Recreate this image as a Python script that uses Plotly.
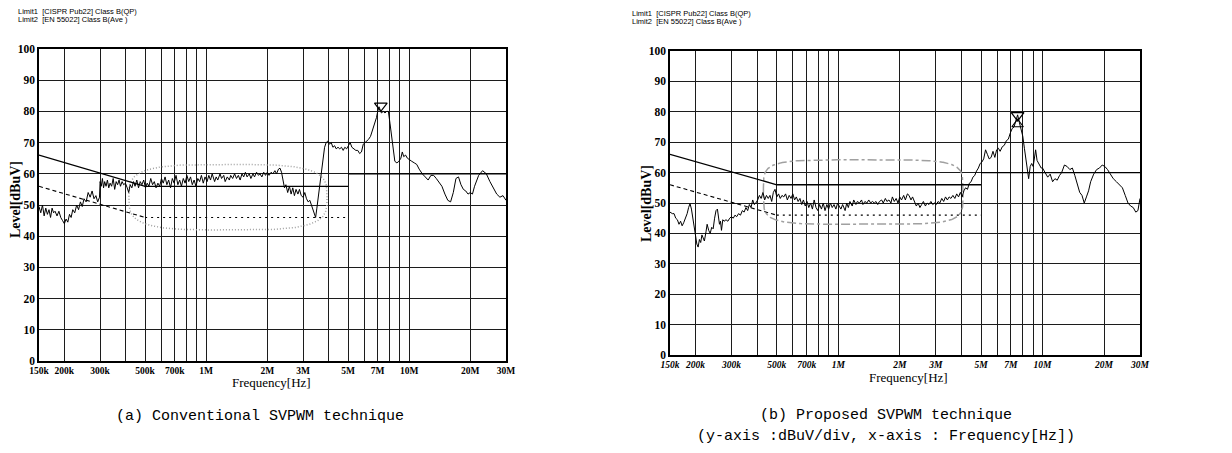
import numpy as np
import plotly.graph_objects as go

# ---------------- data (frequency in MHz, level in dBuV) ----------------
freq_a = [0.150, 0.153, 0.156, 0.159, 0.162, 0.165, 0.168, 0.171, 0.174, 0.177, 0.180, 0.184, 0.188, 0.192, 0.196,
          0.200, 0.204, 0.208, 0.212, 0.216, 0.220, 0.225, 0.230, 0.235, 0.240, 0.245, 0.250, 0.256, 0.262, 0.268,
          0.274, 0.280, 0.286, 0.292, 0.298, 0.300, 0.304, 0.308, 0.312, 0.316, 0.321, 0.326, 0.331, 0.336, 0.342,
          0.348, 0.354, 0.360, 0.366, 0.372, 0.378, 0.385, 0.392, 0.400, 0.408, 0.415, 0.422, 0.430, 0.438, 0.446,
          0.455, 0.464, 0.473, 0.482, 0.492, 0.502, 0.512, 0.522, 0.533, 0.544, 0.555, 0.566, 0.578, 0.590, 0.602,
          0.614, 0.627, 0.640, 0.653, 0.667, 0.681, 0.695, 0.710, 0.725, 0.740, 0.755, 0.771, 0.787, 0.803, 0.820,
          0.837, 0.854, 0.872, 0.890, 0.909, 0.928, 0.947, 0.967, 0.987, 1.01, 1.03, 1.05, 1.07, 1.10, 1.12,
          1.14, 1.17, 1.19, 1.22, 1.24, 1.27, 1.30, 1.32, 1.35, 1.38, 1.41, 1.44, 1.47, 1.50, 1.53,
          1.56, 1.59, 1.63, 1.66, 1.70, 1.73, 1.77, 1.81, 1.84, 1.88, 1.92, 1.96, 2.00, 2.04, 2.09,
          2.13, 2.18, 2.22, 2.27, 2.31, 2.35, 2.39, 2.43, 2.47, 2.52, 2.57, 2.62, 2.67, 2.72, 2.77,
          2.83, 2.88, 2.94, 3.00, 3.06, 3.12, 3.18, 3.24, 3.30, 3.36, 3.41, 3.46, 3.51, 3.57, 3.64,
          3.70, 3.76, 3.83, 3.90, 3.97, 4.05, 4.13, 4.21, 4.29, 4.37, 4.46, 4.55, 4.64, 4.73, 4.82,
          4.92, 5.02, 5.12, 5.22, 5.34, 5.46, 5.58, 5.70, 5.82, 5.94, 6.06, 6.18, 6.30, 6.45, 6.60,
          6.75, 6.90, 7.00, 7.10, 7.20, 7.30, 7.45, 7.60, 7.75, 7.90, 8.05, 8.20, 8.35, 8.50, 8.70,
          8.90, 9.10, 9.25, 9.40, 9.60, 9.80, 10.0, 10.3, 10.6, 10.9, 11.2, 11.6, 12.0, 12.4, 12.8,
          13.2, 13.6, 14.0, 14.5, 15.0, 15.5, 16.0, 16.5, 17.0, 17.5, 18.0, 18.5, 19.0, 19.5, 20.0,
          20.5, 21.0, 22.0, 23.0, 24.0, 25.0, 26.0, 27.0, 28.0, 29.0, 30.0]
level_a = [49.5, 47.5, 50.0, 46.5, 49.0, 47.0, 48.5, 46.0, 49.0, 47.5, 48.0, 46.5, 48.0, 46.0, 45.0,
           44.0, 45.5, 44.5, 47.0, 46.0, 48.5, 47.5, 50.0, 48.5, 51.0, 49.5, 52.0, 51.0, 54.0, 52.5,
           54.5, 52.0, 53.0, 51.0, 52.5, 57.5, 56.0, 58.5, 55.5, 57.5, 56.0, 58.0, 55.5, 57.0, 56.0,
           58.5, 55.0, 57.5, 56.5, 58.0, 56.0, 57.5, 56.5, 57.0, 55.5, 54.0, 56.5, 55.5, 57.5, 56.0,
           58.0, 55.5, 57.5, 56.5, 58.0, 55.5, 57.0, 56.0, 58.5, 56.5, 57.5, 55.5, 57.0, 56.0, 58.5,
           57.0, 59.0, 56.5, 58.0, 55.5, 58.5, 57.0, 59.5, 56.5, 58.0, 56.0, 58.5, 57.0, 59.5, 57.5,
           59.0, 56.5, 58.0, 56.0, 58.5, 57.5, 59.5, 57.0, 59.0, 57.5, 59.5, 58.0, 60.0, 57.5, 59.0,
           58.0, 60.0, 58.5, 59.5, 57.5, 59.0, 58.0, 59.5, 58.5, 60.0, 58.5, 59.5, 58.0, 60.0, 59.0,
           60.5, 59.0, 60.0, 58.5, 60.0, 59.0, 60.5, 59.5, 60.0, 59.0, 60.5, 59.5, 60.5, 59.5, 60.5,
           60.0, 61.0, 60.0, 61.5, 61.8, 60.5, 58.0, 55.5, 56.5, 54.0, 56.0, 53.5, 55.5, 53.0, 55.0,
           53.5, 55.0, 53.0, 52.5, 54.0, 52.0, 51.0, 51.5, 50.0, 48.5, 47.0, 46.0, 49.0, 53.0, 58.0,
           62.0, 66.0, 68.5, 70.0, 70.5, 69.5, 70.0, 68.5, 69.0, 68.0, 68.5, 68.0, 68.5, 67.5, 68.5,
           68.0, 69.0, 70.0, 68.5, 68.0, 67.5, 67.5, 66.5, 67.0, 69.5, 70.0, 70.5, 71.0, 72.0, 74.0,
           76.0, 78.0, 80.0, 81.5, 80.5, 79.5, 80.0, 79.5, 80.0, 80.0, 76.0, 72.0, 67.0, 64.0, 63.5,
           64.0, 65.0, 67.0, 65.5, 66.0, 65.0, 64.5, 64.0, 63.5, 63.0, 61.5, 60.0, 59.0, 58.0, 59.5,
           59.5, 58.5, 57.5, 56.0, 53.5, 51.5, 51.0, 54.0, 58.5, 59.0, 56.5, 55.0, 54.5, 53.5, 54.0,
           53.5, 56.0, 59.5, 61.0, 60.0, 57.5, 55.5, 53.5, 52.5, 53.0, 51.5]

freq_b = [0.150, 0.154, 0.157, 0.160, 0.163, 0.166, 0.169, 0.172, 0.175, 0.179, 0.182, 0.185, 0.188, 0.191, 0.194,
          0.197, 0.200, 0.203, 0.206, 0.209, 0.212, 0.215, 0.218, 0.221, 0.225, 0.228, 0.232, 0.236, 0.240, 0.244,
          0.248, 0.252, 0.256, 0.259, 0.262, 0.265, 0.268, 0.272, 0.276, 0.282, 0.288, 0.294, 0.300, 0.306, 0.312,
          0.318, 0.325, 0.332, 0.339, 0.346, 0.353, 0.360, 0.367, 0.374, 0.381, 0.388, 0.395, 0.403, 0.411, 0.419,
          0.428, 0.436, 0.445, 0.454, 0.463, 0.472, 0.481, 0.490, 0.500, 0.510, 0.520, 0.530, 0.541, 0.552, 0.563,
          0.575, 0.587, 0.599, 0.611, 0.623, 0.636, 0.649, 0.662, 0.675, 0.689, 0.703, 0.717, 0.732, 0.747, 0.762,
          0.778, 0.794, 0.810, 0.827, 0.844, 0.861, 0.879, 0.897, 0.915, 0.934, 0.953, 0.973, 0.993, 1.01, 1.03,
          1.05, 1.08, 1.10, 1.12, 1.14, 1.17, 1.19, 1.22, 1.24, 1.27, 1.30, 1.32, 1.35, 1.38, 1.41,
          1.44, 1.47, 1.50, 1.53, 1.56, 1.59, 1.63, 1.66, 1.70, 1.73, 1.77, 1.81, 1.84, 1.88, 1.92,
          1.96, 2.00, 2.04, 2.09, 2.13, 2.18, 2.22, 2.27, 2.31, 2.36, 2.41, 2.46, 2.51, 2.56, 2.61,
          2.67, 2.72, 2.78, 2.84, 2.90, 2.96, 3.02, 3.08, 3.14, 3.21, 3.28, 3.35, 3.42, 3.49, 3.56,
          3.64, 3.72, 3.80, 3.88, 3.96, 4.04, 4.12, 4.20, 4.29, 4.38, 4.47, 4.56, 4.65, 4.75, 4.85,
          4.95, 5.05, 5.15, 5.26, 5.37, 5.48, 5.60, 5.72, 5.84, 5.96, 6.08, 6.20, 6.35, 6.50, 6.65,
          6.80, 6.95, 7.10, 7.25, 7.40, 7.55, 7.70, 7.85, 8.00, 8.15, 8.30, 8.45, 8.55, 8.70, 8.85,
          9.00, 9.15, 9.25, 9.40, 9.55, 9.70, 9.85, 10.0, 10.3, 10.6, 10.9, 11.2, 11.5, 11.8, 12.1,
          12.4, 12.8, 13.2, 13.6, 14.0, 14.4, 14.8, 15.2, 15.6, 16.0, 16.4, 16.8, 17.2, 17.8, 18.4,
          19.0, 19.6, 20.2, 20.8, 21.5, 22.2, 23.0, 23.8, 24.6, 25.4, 26.2, 27.0, 27.8, 28.6, 29.3, 30.0]
level_b = [47.0, 46.5, 46.5, 45.0, 44.5, 43.0, 44.0, 42.5, 43.5, 45.0, 46.5, 48.5, 49.8, 48.0, 45.0,
           42.0, 39.0, 36.5, 35.5, 38.0, 37.0, 39.5, 38.5, 37.5, 40.5, 43.0, 41.0, 40.0, 42.0, 41.5,
           45.0, 47.5, 48.0, 45.0, 43.0, 44.0, 41.0, 44.5, 44.0, 44.5, 44.0, 45.0, 45.5, 45.0, 46.0,
           45.5, 46.5, 46.0, 47.5, 47.0, 48.5, 47.5, 49.5, 48.5, 51.0, 49.5, 50.0, 51.0, 52.5, 51.5,
           53.5, 51.0, 52.5, 51.5, 52.5, 50.5, 53.5, 54.5, 52.0, 53.0, 51.5, 52.5, 52.0, 53.0, 51.0,
           52.5, 51.5, 53.0, 51.0, 52.0, 50.5, 51.5, 49.5, 51.0, 49.0, 50.5, 48.5, 50.0, 48.0, 51.0,
           48.5, 47.5, 49.5, 48.0, 50.0, 47.5, 49.5, 48.0, 50.0, 48.5, 49.5, 48.0, 50.0, 49.0, 48.0,
           49.5, 47.5, 50.0, 48.5, 50.5, 49.0, 51.0, 49.5, 50.5, 50.0, 51.0, 49.5, 50.5, 50.0, 51.0,
           50.0, 50.5, 50.0, 50.5, 49.5, 50.5, 51.0, 50.0, 51.5, 50.5, 51.0, 50.0, 52.0, 50.5, 51.5,
           50.0, 52.0, 51.0, 52.5, 51.0, 53.0, 52.5, 51.0, 52.0, 50.5, 49.0, 50.0, 48.5, 49.5, 50.5,
           49.0, 50.0, 49.5, 50.5, 49.5, 50.0, 49.5, 50.5, 50.0, 51.5, 50.5, 52.0, 51.0, 52.0, 51.5,
           52.5, 51.5, 53.0, 52.0, 53.5, 52.0, 54.0, 55.0, 54.5, 56.5, 57.0, 58.5, 59.0, 60.5, 61.5,
           63.0, 63.5, 64.5, 67.5, 66.0, 64.5, 65.0, 67.0, 65.0, 67.5, 68.0, 67.0, 68.5, 69.0, 70.5,
           71.0, 73.0, 74.5, 75.0, 77.5, 79.0, 76.5, 74.5, 72.0, 68.0, 64.0, 59.0, 58.0, 62.0, 63.0,
           62.0, 66.5, 67.5, 64.0, 63.0, 62.0, 61.5, 61.5, 60.0, 58.5, 59.5, 57.0, 58.0, 57.5, 59.0,
           60.0, 62.5, 62.0, 61.0, 61.5, 59.0, 56.0, 53.5, 52.5, 50.0, 52.0, 54.0, 57.0, 59.5, 61.0,
           61.5, 62.5, 62.0, 61.0, 59.5, 58.0, 57.0, 56.0, 55.0, 52.5, 50.0, 49.0, 48.5, 47.0, 47.5, 51.5]

# CISPR 22 / EN 55022 class B limits
limit_freq = [0.15, 0.5, 5.0, 5.0, 30.0]
limit1_qp = [66, 56, 56, 60, 60]
limit2_avg = [56, 46, 46, 50, 50]

# peak markers
peak_a_freq, peak_a_level = [7.25], [81.8]
peak_b_freq, peak_b_level = [7.55], [78.8]
peak_b_low_level = [75.9]

# highlighted regions (freq MHz lo/hi, level lo/hi)
region_a = [0.416, 3.94, 42.0, 63.0]
region_b = [0.43, 4.08, 43.0, 64.2]

tick_vals = [0.15, 0.2, 0.3, 0.4, 0.5, 0.6, 0.7, 0.8, 0.9, 1, 2, 3, 4, 5, 6, 7, 8, 9, 10, 20, 30]
tick_text = ["150k", "200k", "300k", "", "500k", "", "700k", "", "", "1M", "2M", "3M", "", "5M", "", "7M",
             "", "", "10M", "20M", "30M"]
y_vals = list(range(0, 101, 10))

W, H = 1232, 453


def stadium(reg, n):
    u0, u1 = np.log10(reg[0]), np.log10(reg[1])
    uc, a = (u0 + u1) / 2, (u1 - u0) / 2
    yc, b = (reg[2] + reg[3]) / 2, (reg[3] - reg[2]) / 2
    t = np.linspace(0, 2 * np.pi, 400)
    c, s = np.cos(t), np.sin(t)
    u = uc + a * np.sign(c) * np.abs(c) ** (2 / n)
    y = yc + b * np.sign(s) * np.abs(s) ** (2 / n)
    return 10 ** u, y


fig = go.Figure()

panels = [
    dict(xa="x", ya="y", freq=freq_a, level=level_a, pf=peak_a_freq, pl=peak_a_level, reg=region_a, n=3.6,
         dash="1px,2px", italic=False),
    dict(xa="x2", ya="y2", freq=freq_b, level=level_b, pf=peak_b_freq, pl=peak_b_level, reg=region_b, n=5,
         dash="dashdot", italic=True),
]

for p in panels:
    ex, ey = stadium(p["reg"], p["n"])
    fig.add_trace(go.Scatter(x=ex, y=ey, mode="lines", xaxis=p["xa"], yaxis=p["ya"],
                             line=dict(color="#a0a0a0", width=1.5, dash=p["dash"]), hoverinfo="skip"))
    fig.add_trace(go.Scatter(x=limit_freq[:3], y=limit1_qp[:3], mode="lines", xaxis=p["xa"], yaxis=p["ya"],
                             line=dict(color="black", width=1.3)))
    fig.add_trace(go.Scatter(x=limit_freq[3:], y=limit1_qp[3:], mode="lines", xaxis=p["xa"], yaxis=p["ya"],
                             line=dict(color="black", width=1.3)))
    fig.add_trace(go.Scatter(x=limit_freq[:2], y=limit2_avg[:2], mode="lines", xaxis=p["xa"], yaxis=p["ya"],
                             line=dict(color="black", width=1.1, dash="4px,3px")))
    fig.add_trace(go.Scatter(x=limit_freq[1:3], y=limit2_avg[1:3], mode="lines", xaxis=p["xa"], yaxis=p["ya"],
                             line=dict(color="black", width=1.1, dash="2px,4px")))
    fig.add_trace(go.Scatter(x=p["freq"], y=p["level"], mode="lines", xaxis=p["xa"], yaxis=p["ya"],
                             line=dict(color="black", width=1.0)))
    fig.add_trace(go.Scatter(x=p["pf"], y=p["pl"], mode="markers", xaxis=p["xa"], yaxis=p["ya"],
                             marker=dict(symbol="triangle-down-open", size=11, color="black",
                                         line=dict(width=1.2, color="black"))))

fig.add_trace(go.Scatter(x=peak_b_freq, y=peak_b_low_level, mode="markers", xaxis="x2", yaxis="y2",
                         marker=dict(symbol="triangle-up-open", size=10, color="black",
                                     line=dict(width=1.1, color="black"))))

# plot areas in pixels: (left, right, top, bottom)
boxes = [(31, 498, 41, 353), (662, 1132, 43, 347)]


def xdom(b):
    return [b[0] / W, b[1] / W]


def ydom(b):
    return [1 - b[3] / H, 1 - b[2] / H]


serif = "Liberation Serif"
grid_col = "#1c1c1c"
for i, b in enumerate(boxes):
    sx = "" if i == 0 else "2"
    italic = panels[i]["italic"]
    fig.layout["xaxis" + sx] = dict(
        type="log", domain=xdom(b), range=[np.log10(0.15), np.log10(30)],
        anchor="y" + sx, tickmode="array", tickvals=tick_vals, ticktext=tick_text,
        showgrid=True, gridcolor=grid_col, gridwidth=1.3, ticks="", showline=True, linecolor="black",
        linewidth=1.5, mirror=True, zeroline=False, automargin=False, ticklabelstandoff=0,
        tickfont=dict(family=serif, size=9.5, color="black", weight="bold",
                      style="italic" if italic else "normal"),
    )
    fig.layout["yaxis" + sx] = dict(
        domain=ydom(b), range=[0, 100], anchor="x" + sx, tickmode="array", tickvals=y_vals,
        showgrid=True, gridcolor=grid_col, gridwidth=1.3, ticks="", showline=True, linecolor="black",
        linewidth=1.5, mirror=True, zeroline=False, automargin=False, ticklabelstandoff=0,
        tickfont=dict(family=serif, size=11.5, color="black", weight="bold"),
    )

ann = []
sans = "Liberation Sans"
# header legends
for (x0, y0) in [(8, 3.5), (622, 5.5)]:
    ann.append(dict(text="Limit1  [CISPR Pub22] Class B(QP)", x=x0 / W, y=1 - y0 / H, xref="paper", yref="paper",
                    xanchor="left", yanchor="middle", showarrow=False, font=dict(family=sans, size=7.5, color="#000")))
    ann.append(dict(text="Limit2  [EN 55022] Class B(Ave )", x=x0 / W, y=1 - (y0 + 7.5) / H, xref="paper",
                    yref="paper", xanchor="left", yanchor="middle", showarrow=False,
                    font=dict(family=sans, size=7.5, color="#000")))
# axis titles
for (xt, yt, xl, yl) in [(263, 374, 8, 192), (900, 369, 638, 196)]:
    ann.append(dict(text="Frequency[Hz]", x=xt / W, y=1 - yt / H, xref="paper", yref="paper", showarrow=False,
                    xanchor="center", yanchor="middle", font=dict(family=serif, size=13, color="black")))
    ann.append(dict(text="Level[dBuV]", x=xl / W, y=1 - yl / H, xref="paper", yref="paper", showarrow=False,
                    textangle=-90, xanchor="center", yanchor="middle",
                    font=dict(family=serif, size=14, color="black", weight="bold")))
# captions
mono = "Liberation Mono"
ann.append(dict(text="(a) Conventional SVPWM technique", x=252 / W, y=1 - 408 / H, xref="paper", yref="paper",
                showarrow=False, xanchor="center", yanchor="middle", font=dict(family=mono, size=15, color="black")))
ann.append(dict(text="(b) Proposed SVPWM technique", x=878 / W, y=1 - 407 / H, xref="paper", yref="paper",
                showarrow=False, xanchor="center", yanchor="middle", font=dict(family=mono, size=15, color="black")))
ann.append(dict(text="(y-axis :dBuV/div, x-axis : Frequency[Hz])", x=878 / W, y=1 - 428 / H, xref="paper",
                yref="paper", showarrow=False, xanchor="center", yanchor="middle",
                font=dict(family=mono, size=15, color="black")))

fig.update_layout(width=W, height=H, margin=dict(l=0, r=0, t=0, b=0), showlegend=False,
                  paper_bgcolor="white", plot_bgcolor="white", annotations=ann)

fig.write_html("out.html")
